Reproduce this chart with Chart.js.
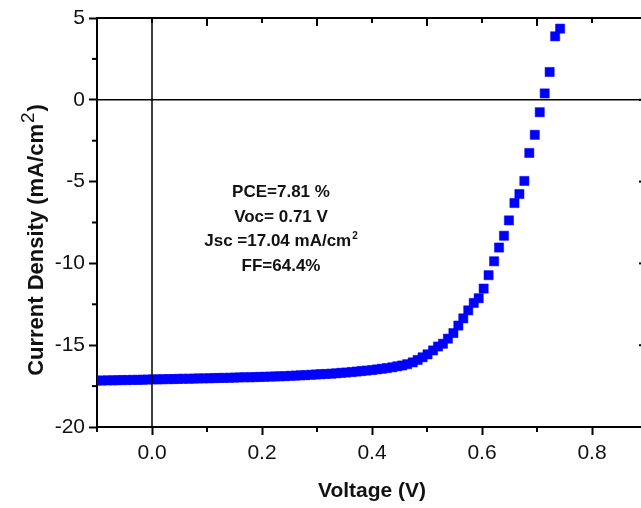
<!DOCTYPE html>
<html>
<head>
<meta charset="utf-8">
<script src="https://cdn.jsdelivr.net/npm/chart.js@4.4.1/dist/chart.umd.min.js"></script>
<style>
    html, body { margin: 0; padding: 0; background: #fff; }
    #wrap { width: 641px; height: 508px; overflow: hidden; position: relative; }
    #jv { display: block; }
</style>
</head>
<body>
<div id="wrap"><canvas id="jv" width="660" height="508"></canvas></div>
<script>
// J-V sweep
const VOLTAGE = [
    -0.100, -0.091, -0.081, -0.072, -0.063, -0.054, -0.045, -0.035, -0.026, -0.017,
    -0.008, 0.002, 0.011, 0.020, 0.030, 0.039, 0.048, 0.057, 0.067, 0.076,
    0.085, 0.094, 0.104, 0.113, 0.122, 0.131, 0.141, 0.150, 0.159, 0.168,
    0.178, 0.187, 0.196, 0.205, 0.215, 0.224, 0.233, 0.242, 0.252, 0.261,
    0.270, 0.279, 0.289, 0.298, 0.307, 0.316, 0.326, 0.335, 0.344, 0.353,
    0.363, 0.372, 0.381, 0.390, 0.400, 0.409, 0.418, 0.427, 0.437, 0.446,
    0.455, 0.464, 0.474, 0.483, 0.492, 0.501, 0.511, 0.520, 0.529, 0.538,
    0.548, 0.557, 0.566, 0.575, 0.585, 0.594, 0.603, 0.612, 0.622, 0.631,
    0.640, 0.649, 0.659, 0.668, 0.677, 0.686, 0.696, 0.705, 0.714, 0.723,
    0.733, 0.742,
];
const CURRENT = [
    -17.16, -17.16, -17.15, -17.15, -17.14, -17.13, -17.13, -17.12, -17.12, -17.11,
    -17.10, -17.09, -17.09, -17.08, -17.07, -17.07, -17.06, -17.05, -17.05, -17.04,
    -17.03, -17.03, -17.02, -17.01, -17.00, -17.00, -16.99, -16.98, -16.97, -16.96,
    -16.96, -16.95, -16.94, -16.93, -16.92, -16.91, -16.90, -16.89, -16.87, -16.86,
    -16.84, -16.83, -16.81, -16.79, -16.77, -16.76, -16.74, -16.72, -16.69, -16.67,
    -16.64, -16.61, -16.58, -16.55, -16.52, -16.48, -16.44, -16.40, -16.35, -16.29,
    -16.24, -16.16, -16.05, -15.90, -15.74, -15.56, -15.32, -15.08, -14.91, -14.60,
    -14.26, -13.80, -13.36, -12.87, -12.42, -12.13, -11.54, -10.72, -9.87, -9.03,
    -8.31, -7.37, -6.31, -5.76, -4.96, -3.25, -2.14, -0.76, 0.39, 1.70,
    3.88, 4.35,
];

const X_MAJOR = [0.0, 0.2, 0.4, 0.6, 0.8];
const X_MINOR = [-0.1, 0.1, 0.3, 0.5, 0.7, 0.9];
const Y_MAJOR = [-20, -15, -10, -5, 0, 5];
const Y_MINOR = [-17.5, -12.5, -7.5, -2.5, 2.5];

const X_TITLE = 'Voltage (V)';
const Y_TITLE = ['Current Density (mA/cm', '2', ')'];
const NOTES = ['PCE=7.81 %', 'Voc= 0.71 V', ['Jsc =17.04 mA/cm', '2'], 'FF=64.4%'];

const FONT = '"Liberation Sans", Arial, sans-serif';
const INK = '#111';

function tick(ctx, x1, y1, x2, y2) {
    ctx.beginPath();
    ctx.moveTo(x1, y1);
    ctx.lineTo(x2, y2);
    ctx.stroke();
}

// frame, minor ticks, mirrored ticks and zero lines
const framePlugin = {
    id: 'frame',
    afterDatasetsDraw(chart) {
        const { ctx, chartArea: a, scales: { x, y } } = chart;
        ctx.save();
        ctx.strokeStyle = '#000';

        ctx.lineWidth = 1.5;
        const x0 = x.getPixelForValue(0), y0 = y.getPixelForValue(0);
        tick(ctx, x0, a.top, x0, a.bottom);
        tick(ctx, a.left, y0, a.right, y0);

        ctx.lineWidth = 2;
        tick(ctx, a.left - 1, a.top, a.right + 1, a.top);
        tick(ctx, a.right, a.top, a.right, a.bottom);

        X_MINOR.forEach(v => {
            const px = x.getPixelForValue(v);
            tick(ctx, px, a.bottom, px, a.bottom + 5);
            tick(ctx, px, a.top, px, a.top + 8);
        });
        X_MAJOR.forEach(v => {
            const px = x.getPixelForValue(v);
            tick(ctx, px, a.top, px, a.top + 5);
        });
        Y_MINOR.forEach(v => {
            const py = y.getPixelForValue(v);
            tick(ctx, a.left, py, a.left - 5, py);
            tick(ctx, a.right, py, a.right - 5, py);
        });
        Y_MAJOR.forEach(v => {
            const py = y.getPixelForValue(v);
            tick(ctx, a.right, py, a.right - 8, py);
        });
        ctx.restore();
    },
    afterDraw(chart) {
        const { ctx } = chart;
        ctx.save();
        ctx.fillStyle = INK;
        ctx.textBaseline = 'alphabetic';

        // y title with superscript
        const bold = `bold 22px ${FONT}`, sup = `19px ${FONT}`;
        ctx.font = bold;
        const w1 = ctx.measureText(Y_TITLE[0]).width;
        const w3 = ctx.measureText(Y_TITLE[2]).width;
        ctx.font = sup;
        const w2 = ctx.measureText(Y_TITLE[1]).width;
        ctx.translate(43, 240);
        ctx.rotate(-Math.PI / 2);
        let sx = -(w1 + w2 + w3 + 2) / 2;
        ctx.textAlign = 'left';
        ctx.font = bold;
        ctx.fillText(Y_TITLE[0], sx, 0);
        ctx.font = sup;
        ctx.fillText(Y_TITLE[1], sx + w1 + 1, -9);
        ctx.font = bold;
        ctx.fillText(Y_TITLE[2], sx + w1 + w2 + 2, 0);
        ctx.setTransform(1, 0, 0, 1, 0, 0);

        // parameters block
        const cx = 281;
        NOTES.forEach((line, i) => {
            const by = 197 + i * 24.5;
            ctx.font = `bold 17px ${FONT}`;
            if (Array.isArray(line)) {
                const wm = ctx.measureText(line[0]).width;
                ctx.font = `bold 10px ${FONT}`;
                const ws = ctx.measureText(line[1]).width;
                const lx = cx - (wm + ws + 1) / 2;
                ctx.textAlign = 'left';
                ctx.font = `bold 17px ${FONT}`;
                ctx.fillText(line[0], lx, by);
                ctx.font = `bold 10px ${FONT}`;
                ctx.fillText(line[1], lx + wm + 1, by - 7);
            } else {
                ctx.textAlign = 'center';
                ctx.fillText(line, cx, by);
            }
        });
        ctx.restore();
    },
};

new Chart(document.getElementById('jv').getContext('2d'), {
    type: 'scatter',
    data: {
        datasets: [{
            data: VOLTAGE.map((v, i) => ({ x: v, y: CURRENT[i] })),
            pointStyle: 'rect',
            pointRadius: 6.5,
            backgroundColor: '#0000ff',
            borderColor: '#0000ff',
            borderWidth: 0.5,
            showLine: false,
        }],
    },
    options: {
        responsive: false,
        animation: false,
        layout: { padding: { top: 18, right: 13, left: 0, bottom: 0 } },
        plugins: { legend: { display: false }, tooltip: { enabled: false } },
        scales: {
            x: {
                type: 'linear',
                min: -0.1,
                max: 0.9,
                afterBuildTicks: s => { s.ticks = X_MAJOR.map(v => ({ value: v })); },
                afterFit: s => { s.height = 81; },
                grid: { drawOnChartArea: false, tickLength: 8, tickWidth: 2, tickColor: '#000' },
                border: { color: '#000', width: 2 },
                ticks: {
                    color: INK, padding: 6,
                    font: { family: FONT, size: 21 },
                    callback: v => Number(v).toFixed(1),
                },
                title: {
                    display: true, text: X_TITLE, color: INK,
                    font: { family: FONT, size: 21, weight: 'bold' },
                    padding: { top: 0, bottom: 4 },
                },
            },
            y: {
                type: 'linear',
                min: -20,
                max: 5,
                afterBuildTicks: s => { s.ticks = Y_MAJOR.map(v => ({ value: v })); },
                afterFit: s => { s.width = 97; },
                grid: { drawOnChartArea: false, tickLength: 8, tickWidth: 2, tickColor: '#000' },
                border: { color: '#000', width: 2 },
                ticks: {
                    color: INK, padding: 4,
                    font: { family: FONT, size: 21 },
                    callback: v => String(v),
                },
            },
        },
    },
    plugins: [framePlugin],
});
</script>
</body>
</html>
